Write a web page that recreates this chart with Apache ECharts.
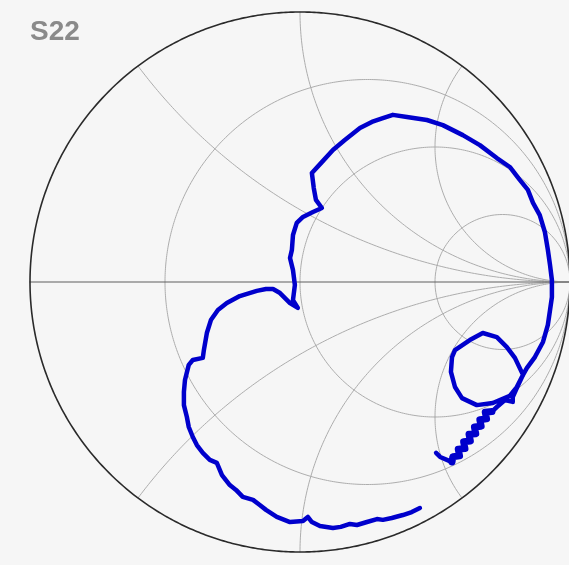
<!DOCTYPE html>
<html>
<head>
<meta charset="utf-8">
<script src="https://cdn.jsdelivr.net/npm/echarts@6/dist/echarts.min.js"></script>
<style>
    html, body { margin: 0; padding: 0; background: #f6f6f6; }
    #chart { width: 569px; height: 565px; }
</style>
</head>
<body>
<div id="chart"></div>
<script>
'use strict';

// Smith chart grid values
const resistances = [1 / 3, 1, 3];
const reactances = [0.5, 1, 2, -0.5, -1, -2];

const s22Re = [
    0.444, 0.414, 0.381, 0.340, 0.307, 0.285, 0.248, 0.211, 0.185, 0.151,
    0.122, 0.074, 0.044, 0.029, 0.011, -0.037, -0.086, -0.126, -0.149, -0.174,
    -0.212, -0.237, -0.260, -0.289, -0.308, -0.334, -0.360, -0.382, -0.397, -0.412,
    -0.419, -0.430, -0.430, -0.426, -0.412, -0.397, -0.360, -0.356, -0.345, -0.330,
    -0.304, -0.271, -0.223, -0.160, -0.126, -0.100, -0.074, -0.037, -0.008, -0.026,
    -0.019, -0.026, -0.037, -0.030, -0.026, -0.012, 0.011, 0.048, 0.081, 0.059,
    0.051, 0.044, 0.081, 0.122, 0.166, 0.222, 0.266, 0.307, 0.344, 0.396,
    0.470, 0.529, 0.603, 0.666, 0.729, 0.777, 0.814, 0.844, 0.863, 0.888,
    0.907, 0.918, 0.926, 0.933, 0.933, 0.926, 0.918, 0.900, 0.870, 0.840,
    0.826, 0.803, 0.777, 0.714, 0.655, 0.600, 0.574, 0.559, 0.563, 0.574,
    0.629, 0.677, 0.729, 0.766, 0.796, 0.826, 0.803, 0.788, 0.788, 0.759,
    0.729, 0.711, 0.686, 0.691, 0.666, 0.671, 0.646, 0.651, 0.626, 0.631,
    0.606, 0.611, 0.586, 0.591, 0.566, 0.563, 0.544, 0.519, 0.504
];
const s22Im = [
    -0.837, -0.852, -0.863, -0.874, -0.881, -0.878, -0.889, -0.900, -0.896, -0.907,
    -0.911, -0.904, -0.889, -0.870, -0.885, -0.889, -0.870, -0.844, -0.826, -0.807,
    -0.796, -0.770, -0.752, -0.715, -0.670, -0.659, -0.633, -0.604, -0.574, -0.537,
    -0.500, -0.456, -0.407, -0.363, -0.307, -0.289, -0.281, -0.252, -0.189, -0.141,
    -0.104, -0.078, -0.052, -0.033, -0.026, -0.026, -0.041, -0.078, -0.096, -0.067,
    -0.011, 0.044, 0.089, 0.119, 0.174, 0.219, 0.241, 0.259, 0.274, 0.304,
    0.348, 0.404, 0.444, 0.489, 0.526, 0.570, 0.593, 0.607, 0.619, 0.611,
    0.600, 0.581, 0.544, 0.507, 0.459, 0.426, 0.378, 0.341, 0.293, 0.248,
    0.185, 0.119, 0.063, 0.007, -0.056, -0.104, -0.159, -0.222, -0.278, -0.319,
    -0.344, -0.389, -0.422, -0.448, -0.456, -0.430, -0.389, -0.333, -0.278, -0.252,
    -0.215, -0.189, -0.204, -0.241, -0.281, -0.344, -0.393, -0.426, -0.444, -0.437,
    -0.463, -0.480, -0.482, -0.507, -0.510, -0.534, -0.537, -0.562, -0.564, -0.589,
    -0.592, -0.617, -0.619, -0.644, -0.647, -0.667, -0.659, -0.648, -0.633
];
// the noisy end of the sweep smears into a wide band
const noisyFrom = 111;
const noisyTo = 125;

const GRID_COLOR = '#adadad';

// sample a circle, keep only what lies in the unit circle, split into runs
function circleRuns(cx, cy, rad) {
    const n = 2400;
    const runs = [];
    let cur = [];
    for (let i = 0; i <= n; i++) {
        const a = -Math.PI / 2 + 2 * Math.PI * i / n;
        const x = cx + rad * Math.cos(a);
        const y = cy + rad * Math.sin(a);
        if (x * x + y * y <= 1.0005) {
            cur.push([x, y]);
        } else if (cur.length) {
            runs.push(cur);
            cur = [];
        }
    }
    cur.length && runs.push(cur);
    return runs;
}

function lineSeries(data, color, width, z) {
    return {
        type: 'line',
        data: data,
        symbol: 'none',
        silent: true,
        animation: false,
        clip: false,
        z: z,
        lineStyle: {color: color, width: width, join: 'round', cap: 'round'}
    };
}

const series = [];

resistances.forEach(r => {
    circleRuns(r / (r + 1), 0, 1 / (r + 1))
        .forEach(run => series.push(lineSeries(run, GRID_COLOR, 1, 1)));
});
reactances.forEach(x => {
    circleRuns(1, 1 / x, Math.abs(1 / x))
        .forEach(run => series.push(lineSeries(run, GRID_COLOR, 1, 1)));
});

// real axis
series.push(lineSeries([[-1, 0], [1, 0]], '#5e5e5e', 1, 2));

// outer boundary |G| = 1
const outer = [];
for (let i = 0; i <= 720; i++) {
    const a = 2 * Math.PI * i / 720;
    outer.push([Math.cos(a), Math.sin(a)]);
}
series.push(lineSeries(outer, '#2a2a2a', 1.6, 3));

// measured trace
const trace = s22Re.map((re, i) => [re, s22Im[i]]);
series.push(lineSeries(trace, '#0000cc', 4.5, 5));
series.push(lineSeries(trace.slice(noisyFrom, noisyTo + 1), '#0000cc', 7, 5));

// map: center at (300, 282) px, unit radius 270 px
const chart = echarts.init(document.getElementById('chart'), null, {renderer: 'canvas'});
chart.setOption({
    backgroundColor: '#f6f6f6',
    animation: false,
    title: {
        text: 'S22',
        left: 30,
        top: 18,
        padding: 0,
        textStyle: {
            color: '#8a8a8a',
            fontSize: 28,
            fontWeight: 'bold',
            fontFamily: 'Liberation Sans'
        }
    },
    grid: {left: 0, top: 0, right: 0, bottom: 0},
    xAxis: {
        type: 'value',
        min: -300 / 270,
        max: 269 / 270,
        show: false,
        splitLine: {show: false}
    },
    yAxis: {
        type: 'value',
        min: -283 / 270,
        max: 282 / 270,
        show: false,
        splitLine: {show: false}
    },
    series: series
});
</script>
</body>
</html>
